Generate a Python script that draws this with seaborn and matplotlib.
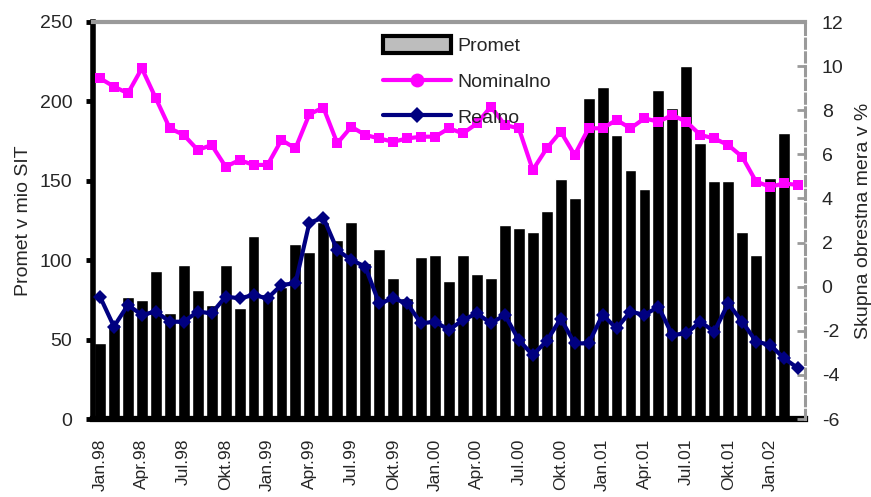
"""Promet v mio SIT (stolpci) ter nominalna in realna obrestna mera (črti)."""
import matplotlib
matplotlib.use("Agg")
import matplotlib.pyplot as plt
from matplotlib.lines import Line2D
from matplotlib.patches import Patch
from matplotlib.ticker import FixedLocator, MultipleLocator
import numpy as np
import pandas as pd
import seaborn as sns

sns.set_style("white")
plt.rcParams["font.family"] = ["Liberation Sans", "DejaVu Sans"]
plt.rcParams["axes.unicode_minus"] = False
FS = 14

MONTHS = ["Jan", "Feb", "Mar", "Apr", "Maj", "Jun", "Jul", "Avg", "Sep", "Okt", "Nov", "Dec"]
YEARS = ["98", "99", "00", "01", "02"]
CATEGORIES = [f"{m}.{y}" for y in YEARS for m in MONTHS][:51]   # Jan.98 .. Mar.02
TICK_LABELS = CATEGORIES[::3]

# promet v mio SIT (za Mar.02 ni stolpca)
PROMET = [48, 60, 77, 75, 93, 67, 97, 81, 72, 97, 70, 115,
          79, 83, 110, 105, 124, 113, 124, 98, 107, 89, 76, 102,
          103, 87, 103, 91, 89, 122, 120, 118, 131, 151, 139, 202,
          209, 179, 157, 145, 207, 196, 222, 174, 150, 150, 118, 103,
          152, 180, np.nan]
NOMINALNO = [9.45, 9.07, 8.77, 9.9, 8.54, 7.18, 6.88, 6.2, 6.42, 5.44, 5.74, 5.52,
             5.52, 6.65, 6.27, 7.82, 8.12, 6.5, 7.25, 6.88, 6.72, 6.57, 6.72, 6.8,
             6.8, 7.18, 6.95, 7.4, 8.16, 7.33, 7.18, 5.29, 6.27, 7.03, 5.97, 7.18,
             7.18, 7.56, 7.18, 7.63, 7.48, 7.78, 7.48, 6.88, 6.72, 6.42, 5.89, 4.76,
             4.53, 4.68, 4.61]
REALNO = [-0.45, -1.81, -0.83, -1.28, -1.13, -1.59, -1.59, -1.13, -1.21, -0.45, -0.53, -0.38,
          -0.53, 0.08, 0.15, 2.9, 3.13, 1.66, 1.21, 0.91, -0.76, -0.53, -0.76, -1.66,
          -1.59, -1.96, -1.51, -1.21, -1.66, -1.28, -2.42, -3.1, -2.46, -1.45, -2.57, -2.57,
          -1.28, -1.89, -1.13, -1.28, -0.91, -2.19, -2.12, -1.59, -2.04, -0.76, -1.59, -2.49,
          -2.64, -3.25, -3.7]

MAGENTA = "#ff00ff"
NAVY = "#000080"
GRAY = "#9a9a9a"

df = pd.DataFrame({"mesec": CATEGORIES, "promet": PROMET,
                   "nominalno": NOMINALNO, "realno": REALNO})
df["pos"] = np.arange(len(df))

fig = plt.figure(figsize=(8.71, 4.97), dpi=100)
ax = fig.add_axes([93 / 871, 1 - 419 / 497, 712 / 871, 397 / 497])

sns.barplot(data=df.dropna(subset=["promet"]), x="mesec", y="promet", order=CATEGORIES,
            color="black", saturation=1, width=0.85, errorbar=None, ax=ax)
ax.set_xlim(-0.5, len(CATEGORIES) - 0.5)
ax.set_ylim(0, 250)
ax.yaxis.set_major_locator(MultipleLocator(50))

ax2 = ax.twinx()
sns.lineplot(data=df, x="pos", y="nominalno", color=MAGENTA, lw=3, marker="s",
             markersize=7.5, markeredgewidth=0, ax=ax2)
sns.lineplot(data=df, x="pos", y="realno", color=NAVY, lw=3, marker="D",
             markersize=7.5, markeredgewidth=0, ax=ax2)
ax2.set_ylim(-6, 12)
ax2.yaxis.set_major_locator(MultipleLocator(2))
ax2.set_xlim(-0.5, len(CATEGORIES) - 0.5)

# x os: črtice med meseci, oznake na vsake tri mesece
ax.xaxis.set_major_locator(FixedLocator(np.arange(0, len(CATEGORIES), 3)))
ax.set_xticklabels(TICK_LABELS, rotation=90, fontsize=FS - 1.5)
ax.xaxis.set_minor_locator(FixedLocator(np.arange(-0.5, len(CATEGORIES), 1)))
ax.tick_params(axis="x", which="major", length=0, pad=14)
ax.tick_params(axis="x", which="minor", length=5, width=3.5, color="black", direction="out")
ax.set_xlabel("")
ax2.set_xlabel("")

ax.tick_params(axis="y", length=5, width=3.5, color="black", direction="out",
               labelsize=FS, pad=10)
ax2.tick_params(axis="y", length=6, width=2, color=GRAY, direction="in",
                labelsize=FS, pad=12)
ax2.tick_params(axis="y", which="both", left=False)

ax.set_ylabel("Promet v mio SIT", fontsize=FS)
ax.yaxis.set_label_coords(-0.0857, 0.5)
ax2.set_ylabel("Skupna obrestna mera v %", fontsize=FS)
ax2.yaxis.set_label_coords(1.07, 0.5)

for a in (ax, ax2):
    for s in a.spines.values():
        s.set_visible(False)
ax.spines["left"].set(visible=True, color="black", linewidth=4)
ax.spines["bottom"].set(visible=True, color="black", linewidth=4.5)
ax2.spines["top"].set(visible=True, color=GRAY, linewidth=3)
ax2.spines["right"].set(visible=True, color=GRAY, linewidth=2.2, linestyle=(0, (3, 1.5)))

handles = [
    Patch(facecolor="#bdbdbd", edgecolor="black", linewidth=3),
    Line2D([], [], color=MAGENTA, lw=3, marker="o", markersize=10, markeredgewidth=0),
    Line2D([], [], color=NAVY, lw=3, marker="D", markersize=8, markeredgewidth=0),
]
fig.legend(handles, ["Promet", "Nominalno", "Realno"], loc="upper left",
           bbox_to_anchor=(383 / 871, 1 - 36 / 497), frameon=False, fontsize=FS,
           handlelength=3.5, handleheight=1.0, handletextpad=0.3, labelspacing=0.85,
           borderpad=0, borderaxespad=0)

fig.savefig("out.png", dpi=100, facecolor="white")
